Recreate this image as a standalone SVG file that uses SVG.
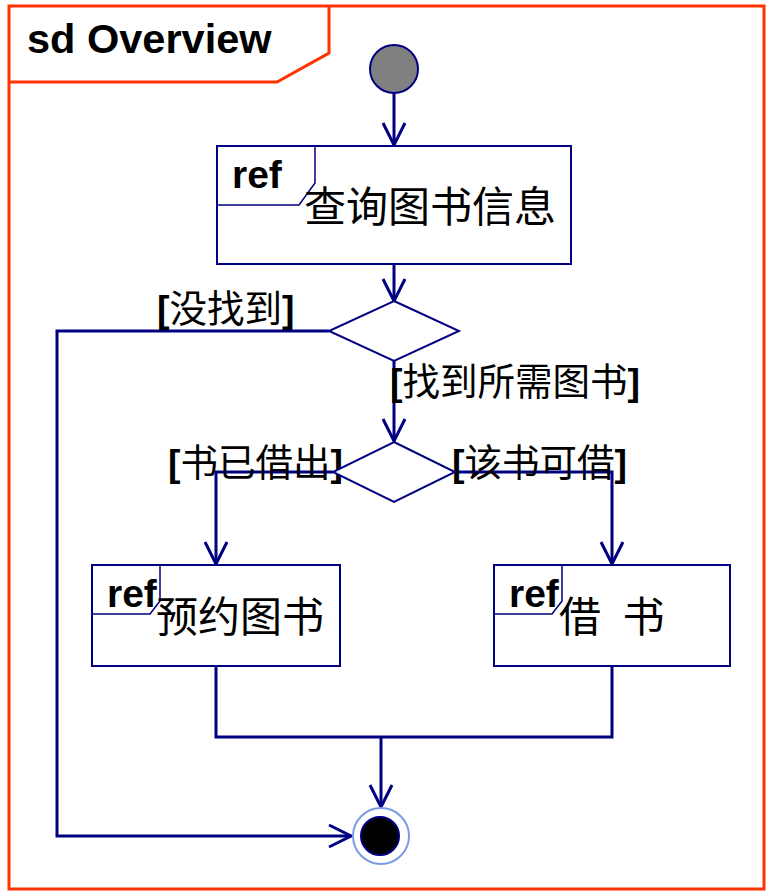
<svg xmlns="http://www.w3.org/2000/svg" width="766" height="891" viewBox="0 0 766 891">
<defs>
<style>
.frame{fill:none;stroke:#ff3300;stroke-width:3}
.box{fill:#ffffff;stroke:#000080;stroke-width:2}
.tab{fill:none;stroke:#000080;stroke-width:1.5}
.conn{fill:none;stroke:#000080;stroke-width:3}
.ref{font-family:"Liberation Sans",Arial,sans-serif;font-weight:bold;font-size:39px;fill:#000}
.title{font-family:"Liberation Sans",Arial,sans-serif;font-weight:bold;font-size:41.5px;fill:#000}
.cjk{font-family:"Noto Sans CJK SC","Noto Sans CJK TC",sans-serif;font-size:42px;fill:#000}
.lbl{font-family:"Noto Sans CJK SC","Noto Sans CJK TC",sans-serif;font-size:37.5px;fill:#000}
.br{font-family:"Liberation Sans",Arial,sans-serif;font-weight:bold}
</style>
<marker id="arr" viewBox="-25 -14 28 28" refX="0" refY="0" markerWidth="28" markerHeight="28" markerUnits="userSpaceOnUse" orient="auto">
<path d="M-22,-11 L0,0 L-22,11" fill="none" stroke="#000080" stroke-width="3"/>
</marker>
</defs>
<rect x="0" y="0" width="766" height="891" fill="#ffffff"/>
<g id="frame">
<rect class="frame" x="9" y="6" width="755" height="883"/>
<path class="frame" d="M9,82 L277,82 L329,53 L329,6"/>
<text class="title" x="27" y="53">sd Overview</text>
</g>
<g id="connectors">
<line class="conn" x1="394" y1="93" x2="394" y2="145" marker-end="url(#arr)"/>
<line class="conn" x1="394" y1="264" x2="394" y2="301" marker-end="url(#arr)"/>
<polyline class="conn" points="329,331 57,331 57,836 351,836" marker-end="url(#arr)"/>
<line class="conn" x1="394" y1="361" x2="394" y2="441" marker-end="url(#arr)"/>
<polyline class="conn" points="333,472 216,472 216,564" marker-end="url(#arr)"/>
<polyline class="conn" points="455,472 612,472 612,564" marker-end="url(#arr)"/>
<polyline class="conn" points="216,666 216,737 612,737 612,666"/>
<line class="conn" x1="381" y1="737" x2="381" y2="807" marker-end="url(#arr)"/>
<text class="lbl" x="157" y="322"><tspan class="br">[</tspan>没找到<tspan class="br">]</tspan></text>
<text class="lbl" x="390" y="395"><tspan class="br">[</tspan>找到所需图书<tspan class="br">]</tspan></text>
<text class="lbl" x="168" y="476"><tspan class="br">[</tspan>书已借出<tspan class="br">]</tspan></text>
<text class="lbl" x="452" y="476"><tspan class="br">[</tspan>该书可借<tspan class="br">]</tspan></text>
</g>
<g id="initial">
<circle cx="394" cy="69" r="24" fill="#808080" stroke="#000080" stroke-width="2"/>
</g>
<g id="query">
<rect class="box" x="217" y="146" width="354" height="118"/>
<path class="tab" d="M315,146 L315,183 L299,205 L217,205"/>
<text class="ref" x="232" y="188">ref</text>
<text class="cjk" x="304" y="222">查询图书信息</text>
</g>
<g id="decision1">
<polygon class="box" points="394,301 459,331 394,361 329,331"/>
</g>
<g id="decision2">
<polygon class="box" points="394,442 455,472 394,502 333,472"/>
</g>
<g id="reserve">
<rect class="box" x="92" y="565" width="248" height="101"/>
<path class="tab" d="M160,565 L160,601 L150,614 L92,614"/>
<text class="ref" x="107" y="607">ref</text>
<text class="cjk" x="156" y="632">预约图书</text>
</g>
<g id="borrow">
<rect class="box" x="494" y="565" width="236" height="101"/>
<path class="tab" d="M562,565 L562,601 L552,614 L494,614"/>
<text class="ref" x="509" y="607">ref</text>
<text class="cjk" x="559" y="632" word-spacing="12">借 书</text>
</g>
<g id="final">
<circle cx="381" cy="836" r="28" fill="#ffffff" stroke="#7b9be6" stroke-width="2"/>
<circle cx="380" cy="836" r="19" fill="#000000" stroke="#000080" stroke-width="2"/>
</g>
</svg>
